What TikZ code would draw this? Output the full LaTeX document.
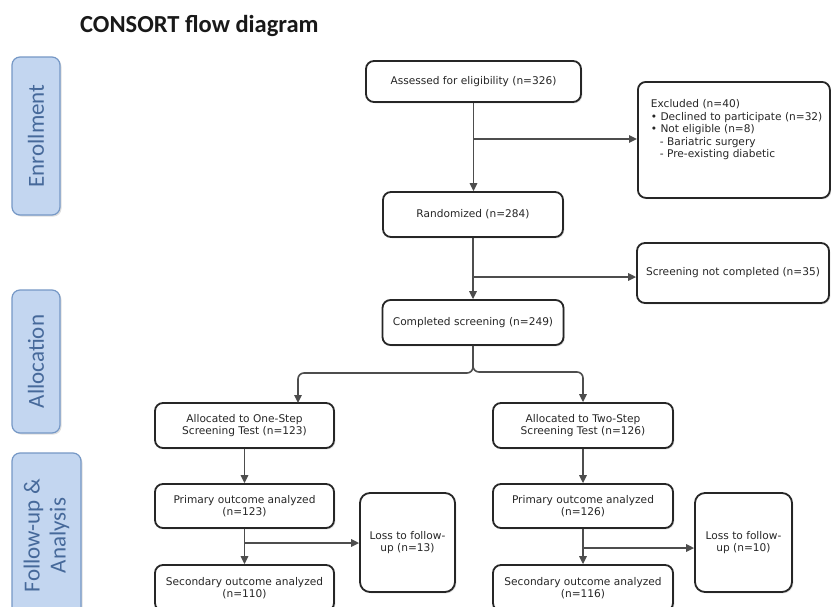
\documentclass[tikz,border=0pt]{standalone}
\usepackage{fontspec}
\setmainfont{DejaVu Sans}
\newfontfamily\calibrifont{Carlito}
\usetikzlibrary{arrows.meta,shadows,calc}
\definecolor{boxline}{HTML}{262626}
\definecolor{arrowc}{HTML}{4D4D4D}
\definecolor{sidefill}{HTML}{C3D6F0}
\definecolor{sideline}{HTML}{7698C6}
\definecolor{sidetext}{HTML}{46699A}
\definecolor{txt}{HTML}{262626}
\tikzset{
  flowbox/.style={draw=boxline, line width=1.8pt, rounded corners=8pt, fill=white,
    align=center, font=\fontsize{10.6}{12.5}\selectfont, text=txt, inner sep=2pt,
    drop shadow={opacity=0.25, shadow xshift=1.3pt, shadow yshift=-1.3pt}},
  sidebox/.style={draw=sideline, line width=1.2pt, rounded corners=8pt, fill=sidefill,
    text=sidetext, align=center, font=\calibrifont\fontsize{23}{26}\selectfont, rotate=90,
    drop shadow={opacity=0.25, shadow xshift=1.5pt, shadow yshift=-1.5pt}},
  arr/.style={draw=arrowc, line width=1.6pt, -{Triangle[length=8pt,width=7.5pt]}},
}
\begin{document}
\begin{tikzpicture}[x=1pt,y=-1pt]
\useasboundingbox (0,0) rectangle (831,606);
\fill[white] (0,0) rectangle (831,606);

% title
\node[anchor=west, inner sep=0pt, text=black!90, font=\calibrifont\bfseries\fontsize{24.5}{28}\selectfont] (title) at (80,26) {CONSORT flow diagram};

% side labels
\node[sidebox, minimum width=158pt, minimum height=48pt] (enr) at (36,136) {Enrollment};
\node[sidebox, minimum width=143pt, minimum height=48pt] (alloc) at (36,361.5) {Allocation};
\node[sidebox, minimum width=165pt, minimum height=69pt] (fu) at (46.5,535.5) {Follow-up \&\\Analysis};

% main flow
\node[flowbox, minimum width=215pt, minimum height=41pt] (assess) at (473.5,81.5) {Assessed for eligibility (n=326)};
\node[flowbox, anchor=north west, inner sep=0pt, minimum width=192pt, minimum height=116pt] (excl) at (637,81)
  {\parbox[c][116pt][t]{192pt}{\raggedright\leftskip=13pt\vspace*{18pt}Excluded (n=40)\\
   • Declined to participate (n=32)\\
   • Not eligible (n=8)\\
   \hspace*{9pt}- Bariatric surgery\\
   \hspace*{9pt}- Pre-existing diabetic}};
\node[flowbox, minimum width=180pt, minimum height=45pt] (rand) at (473,214.5) {Randomized (n=284)};
\node[flowbox, minimum width=192pt, minimum height=60pt] (screen) at (733,273) {Screening not completed (n=35)};
\node[flowbox, minimum width=181pt, minimum height=45pt] (comp) at (473,322.5) {Completed screening (n=249)};

\node[flowbox, minimum width=179pt, minimum height=45pt] (one) at (244.5,425.5) {Allocated to One-Step\\Screening Test (n=123)};
\node[flowbox, minimum width=180pt, minimum height=45pt] (two) at (583,425.5) {Allocated to Two-Step\\Screening Test (n=126)};

\node[flowbox, minimum width=179pt, minimum height=44pt] (p1) at (244.5,506) {Primary outcome analyzed\\(n=123)};
\node[flowbox, minimum width=180pt, minimum height=44pt] (p2) at (583,506) {Primary outcome analyzed\\(n=126)};

\node[flowbox, rounded corners=10pt, minimum width=95pt, minimum height=99pt] (loss1) at (407.5,542.5) {Loss to follow-\\up (n=13)};
\node[flowbox, rounded corners=10pt, minimum width=97pt, minimum height=99pt] (loss2) at (743.5,542.5) {Loss to follow-\\up (n=10)};

\node[flowbox, minimum width=179pt, minimum height=46pt] (s1) at (244.5,588) {Secondary outcome analyzed\\(n=110)};
\node[flowbox, minimum width=180pt, minimum height=46pt] (s2) at (583,588) {Secondary outcome analyzed\\(n=116)};

% connectors
\draw[arr] (assess.south) -- (assess.south |- rand.north);
\coordinate (b1) at (473.5,139);
\draw[arr] (b1) -- (b1 -| excl.west);

\draw[arr] (rand.south) -- (rand.south |- comp.north);
\coordinate (b2) at (473,277);
\draw[arr] (b2) -- (b2 -| screen.west);

\coordinate (oneIn) at (298,403);
\coordinate (splitL) at (298,373);
\coordinate (splitR) at (583,372);
\draw[arr, rounded corners=6pt] (comp.south) |- (splitL) -- (oneIn);
\draw[arr, rounded corners=6pt] (comp.south) |- (splitR) -- (two.north);

\draw[arr] (one.south) -- (p1.north);
\draw[arr] (two.south) -- (p2.north);

\draw[arr] (p1.south) -- (s1.north);
\coordinate (b3) at (244.5,543);
\draw[arr] (b3) -- (b3 -| loss1.west);

\draw[arr] (p2.south) -- (s2.north);
\coordinate (b4) at (583,548);
\draw[arr] (b4) -- (b4 -| loss2.west);
\end{tikzpicture}
\end{document}
